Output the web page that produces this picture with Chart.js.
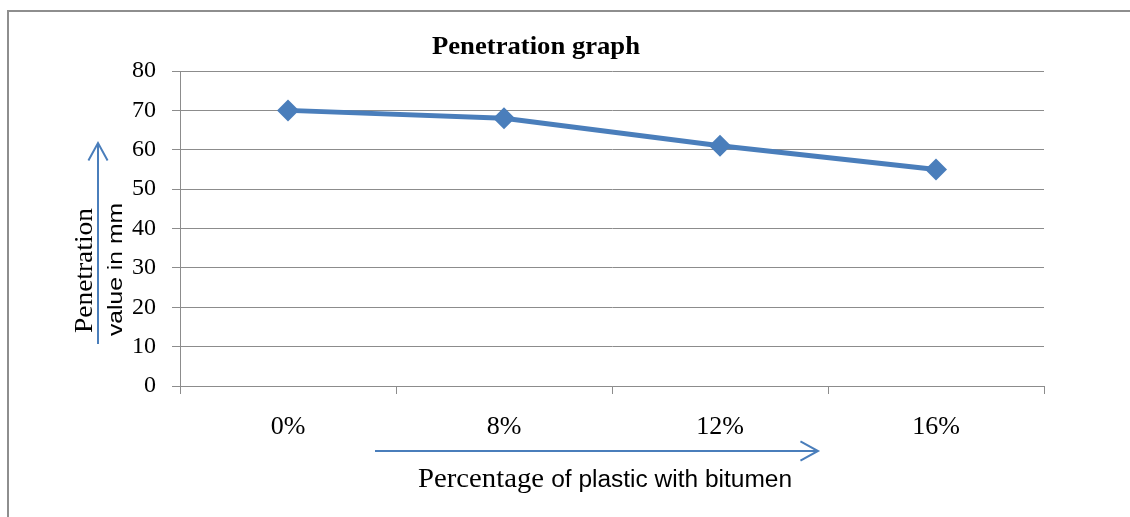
<!DOCTYPE html>
<html>
<head>
<meta charset="utf-8">
<script src="https://cdn.jsdelivr.net/npm/chart.js@4"></script>
<style>
  html, body { margin: 0; padding: 0; background: #fff; }
  #wrap { width: 1130px; height: 517px; position: relative; }
</style>
</head>
<body>
<div id="wrap"><canvas id="pen"></canvas></div>
<script>
// data
const plasticPct = ["0%", "8%", "12%", "16%"];
const penetration = [70, 68, 61, 55];
const yMin = 0, yMax = 80, yStep = 10;

const blue = "#4A7EBB";
const gridGray = "#8C8C8C";
const serif = "'Liberation Serif', 'Times New Roman', serif";
const sans = "'Liberation Sans', Arial, sans-serif";

function arrow(ctx, x1, y1, x2, y2) {
  let a = Math.atan2(y2 - y1, x2 - x1);
  let len = 20, spread = 0.5;
  ctx.beginPath();
  ctx.moveTo(x1, y1);
  ctx.lineTo(x2, y2);
  ctx.moveTo(x2 - len * Math.cos(a - spread), y2 - len * Math.sin(a - spread));
  ctx.lineTo(x2, y2);
  ctx.lineTo(x2 - len * Math.cos(a + spread), y2 - len * Math.sin(a + spread));
  ctx.stroke();
}

// draws pieces [text, font] one after another, squeezed/stretched to width w
function fitText(ctx, parts, x, y, w) {
  let total = 0;
  parts.forEach(p => { ctx.font = p[1]; total += ctx.measureText(p[0]).width; });
  ctx.save();
  ctx.translate(x, y);
  ctx.scale(w / total, 1);
  ctx.textAlign = "left";
  let cx = 0;
  parts.forEach(p => {
    ctx.font = p[1];
    ctx.fillText(p[0], cx, 0);
    cx += ctx.measureText(p[0]).width;
  });
  ctx.restore();
}

// title, frame, arrows and the split-font axis titles
const decor = {
  id: "decor",
  afterDraw(chart) {
    const ctx = chart.ctx;
    ctx.save();
    // frame (only top and left edges are in the crop)
    ctx.fillStyle = "#8E8E8E";
    ctx.fillRect(7, 10, 1130, 2);
    ctx.fillRect(7, 10, 2, 517);

    ctx.fillStyle = "#000";
    ctx.textBaseline = "alphabetic";
    fitText(ctx, [["Penetration graph", "bold 25px " + serif]], 432, 54, 208);

    // arrows
    ctx.strokeStyle = blue;
    ctx.lineWidth = 2;
    ctx.lineCap = "butt";
    arrow(ctx, 98, 344, 98, 143);
    arrow(ctx, 375, 451, 818, 451);

    // y title, two rotated lines
    ctx.save();
    ctx.translate(92, 333);
    ctx.rotate(-Math.PI / 2);
    fitText(ctx, [["Penetration", "25px " + serif]], 0, 0, 125);
    ctx.restore();
    ctx.save();
    ctx.translate(122, 336);
    ctx.rotate(-Math.PI / 2);
    fitText(ctx, [["value in mm", "21px " + sans]], 0, 0, 133);
    ctx.restore();

    // x title: "Percentage" serif, rest sans
    fitText(ctx, [["Percentage ", "27px " + serif], ["of plastic with bitumen", "23px " + sans]], 418, 487, 374);
    ctx.restore();
  }
};

new Chart(document.getElementById("pen"), {
  type: "line",
  data: {
    labels: plasticPct,
    datasets: [{
      data: penetration,
      borderColor: blue,
      backgroundColor: blue,
      borderWidth: 5,
      pointStyle: "rectRot",
      pointRadius: 11,
      pointHoverRadius: 11,
      pointBorderWidth: 0,
      tension: 0
    }]
  },
  options: {
    responsive: true,
    maintainAspectRatio: false,
    animation: false,
    events: [],
    layout: { padding: { top: 71, right: 86, left: 0, bottom: 0 } },
    plugins: { legend: { display: false }, tooltip: { enabled: false }, title: { display: false } },
    scales: {
      x: {
        offset: true,
        grid: { offset: true, drawOnChartArea: false, drawTicks: true, tickLength: 8, color: gridGray },
        border: { display: true, color: gridGray },
        ticks: { color: "#000", padding: 18, font: { family: serif, size: 26 } },
        afterFit(s) { s.height = 131; }
      },
      y: {
        min: yMin, max: yMax,
        grid: { color: gridGray, tickLength: 8 },
        border: { display: true, color: gridGray },
        ticks: { stepSize: yStep, color: "#000", padding: 16, font: { family: serif, size: 24 } },
        afterFit(s) { s.width = 180; }
      }
    }
  },
  plugins: [decor]
});
</script>
</body>
</html>
